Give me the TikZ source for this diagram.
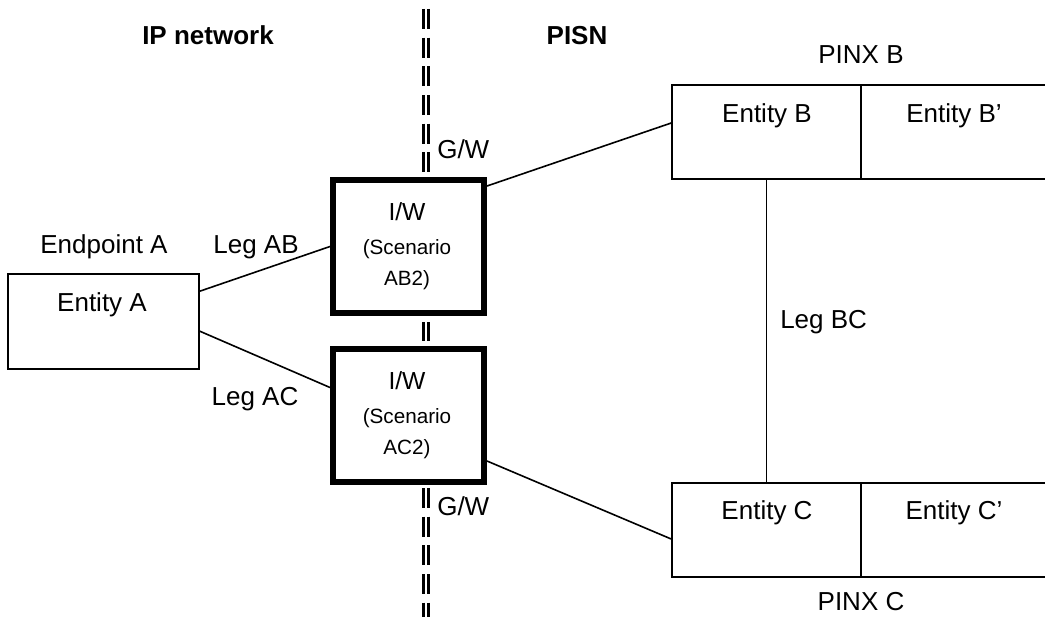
\documentclass[tikz,border=0pt]{standalone}
\usepackage{fontspec}
\setmainfont{Liberation Sans}
\usepackage{tikz}
\usetikzlibrary{positioning}

\tikzset{
  lbl/.style={anchor=base, inner sep=0pt, font=\fontsize{19.5pt}{23pt}\selectfont},
  hdlbl/.style={lbl, font=\bfseries\fontsize{19.5pt}{23pt}\selectfont},
  iwlbl/.style={lbl, font=\fontsize{18.5pt}{22pt}\selectfont},
  sclbl/.style={lbl, font=\fontsize{15.5pt}{18pt}\selectfont},
  epbox/.style={draw, line width=1.2pt, minimum width=143.25pt, minimum height=71.25pt, inner sep=0pt},
  entbox/.style={draw, line width=1.2pt, minimum width=141.75pt, minimum height=70.5pt, inner sep=0pt},
  iwbox/.style={draw, fill=white, line width=4.5pt, minimum width=113.25pt, minimum height=99.75pt, inner sep=0pt},
  gwline/.style={line width=2.25pt, dash pattern=on 15pt off 6.5pt},
  leg/.style={line width=1.2pt}
}

\begin{document}
\begin{tikzpicture}[x=0.75pt,y=0.75pt,yscale=-1,xscale=1]
\useasboundingbox (0,0) rectangle (1045,617);
\clip (0,0) rectangle (1045,617);

%Shape: G/W border, double dashed line
\draw [gwline] (423,9) -- (423,177) ;
\draw [gwline] (428.5,9) -- (428.5,177) ;
\draw [gwline] (423,322) -- (423,341) ;
\draw [gwline] (428.5,322) -- (428.5,341) ;
\draw [gwline] (423,488) -- (423,617) ;
\draw [gwline] (428.5,488) -- (428.5,617) ;

%Shape: Rectangle, endpoint A
\node [epbox] (enda) at (103.5,321.5) {};
%Shape: Rectangle, I/W boxes
\node [iwbox] (iwab) at (408.5,246.5) {};
\node [iwbox] (iwac) at (408.5,415.5) {};
%Shape: Rectangle, PINX B
\node [entbox] (entb) at (766.5,132) {};
\node [entbox] (entbb) at (955.5,132) {};
%Shape: Rectangle, PINX C
\node [entbox] (entc) at (766.5,530) {};
\node [entbox] (entcc) at (955.5,530) {};

%Straight Lines, legs
\draw [leg] ([yshift=13.5pt]enda.north east) -- (iwab.west) ;
\draw [leg] ([yshift=43.5pt]enda.north east) -- ([yshift=-21pt]iwac.west) ;
\draw [leg] ([yshift=6.75pt]iwab.north east) -- ([yshift=-6.75pt]entb.west) ;
\draw [leg] ([yshift=-18pt]iwac.south east) -- ([yshift=6.75pt]entc.west) ;
\draw [leg] (entb.south) -- (entc.north) ;

% Text Node
\node [hdlbl] (ipnet) at (208,45) {IP network};
% Text Node
\node [hdlbl] (pisn) at (577,45) {PISN};
% Text Node
\node [lbl] (pinxb) at (861,64) {PINX B};
% Text Node
\node [lbl] (pinxc) at (861,610) {PINX C};
% Text Node
\node [lbl] (tentb) at (767,122) {Entity B};
\node [lbl] (tentbb) at (954,122) {Entity B'};
% Text Node
\node [lbl] (tentc) at (767,519) {Entity C};
\node [lbl] (tentcc) at (954,519) {Entity C'};
% Text Node
\node [lbl] (tepa) at (104,253) {Endpoint A};
\node [lbl] (tenta) at (102,311) {Entity A};
% Text Node
\node [lbl] (tlegab) at (256,253) {Leg AB};
\node [lbl] (tlegac) at (255,405) {Leg AC};
\node [lbl, anchor=base west] (tlegbc) at (780,328) {Leg BC};
% Text Node
\node [lbl, anchor=base west] (tgwtop) at (437,158) {G/W};
\node [lbl, anchor=base west] (tgwbot) at (437,515) {G/W};
% Text Node
\node [iwlbl] (tiwab) at (407,220) {I/W};
\node [sclbl] (tscab) at (407,254) {(Scenario};
\node [sclbl] (tabtwo) at (407,285) {AB2)};
% Text Node
\node [iwlbl] (tiwac) at (407,389) {I/W};
\node [sclbl] (tscac) at (407,423) {(Scenario};
\node [sclbl] (tactwo) at (407,454) {AC2)};

\end{tikzpicture}
\end{document}
